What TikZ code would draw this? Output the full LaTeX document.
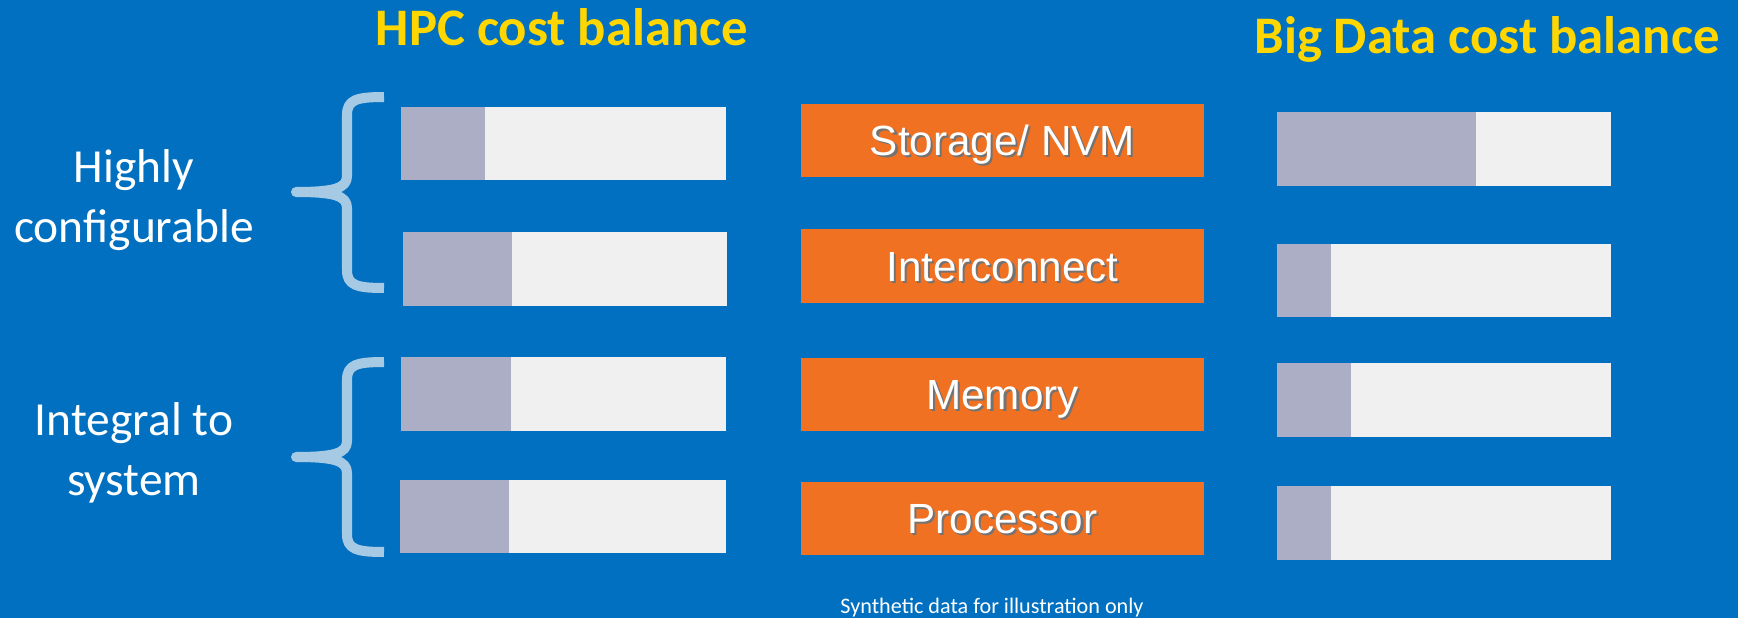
\documentclass[tikz,border=0pt]{standalone}
\usepackage{fontspec}
\setmainfont{Carlito}
\newfontfamily\arialfont{Liberation Sans}
\usetikzlibrary{positioning}

\definecolor{slideblue}{RGB}{2,112,192}
\definecolor{titleyellow}{RGB}{255,214,0}
\definecolor{boxorange}{RGB}{240,113,34}
\definecolor{barlight}{RGB}{240,240,240}
\definecolor{bargray}{RGB}{172,174,198}
\definecolor{bracecol}{RGB}{166,202,228}

\newcommand{\shadowed}[1]{\leavevmode\rlap{\kern0.6pt\raisebox{-0.6pt}{\color{black!55}#1}}#1}

\begin{document}
\begin{tikzpicture}[x=0.01cm, y=-0.01cm, every node/.style={inner sep=0pt},
	title/.style={text=titleyellow, font=\fontsize{15}{18}\selectfont\bfseries, anchor=base},
	sidelabel/.style={text=white, align=center, font=\fontsize{13.5}{17}\selectfont, anchor=base},
	partbox/.style={fill=boxorange, minimum width=4.02cm, minimum height=0.73cm, text=white,
		font=\arialfont\fontsize{12}{14}\selectfont, text height=8.6pt, text depth=0pt},
	bracket/.style={draw=bracecol, line width=1mm, line join=round}]
	\fill[slideblue] (0,0) rectangle (1738,618);
	\node[title] (hpc) at (562,45) {HPC cost balance};
	\node[title] (bigdata) at (1487,54) {Big Data cost balance};
	\node[sidelabel] (config) at (134,242) {Highly\\configurable};
	\node[sidelabel] (integral) at (134,495) {Integral to\\system};
	\foreach \t/\m/\b in {97/192/288, 362/457/552}
		\draw[bracket] (384,\t) .. controls (356,\t) and (347,\t+3) .. (347,\t+18) -- (347,\m-16)
			.. controls (347,\m-4) and (335,\m) .. (296,\m) .. controls (335,\m) and (347,\m+4) .. (347,\m+16)
			-- (347,\b-18) .. controls (347,\b-3) and (356,\b) .. (384,\b);
	\foreach \l/\t/\g/\r/\b in {401/107/485/726/180, 403/232/512/727/306, 401/357/511/726/431, 400/480/509/726/553,
		1277/112/1476/1611/186, 1277/244/1331/1611/317, 1277/363/1351/1611/437, 1277/486/1331/1611/560} {
		\fill[barlight] (\l,\t) rectangle (\r,\b);
		\fill[bargray] (\l,\t) rectangle (\g,\b);
	}
	\node[partbox] (storage) at (1002.5,140.5) {\shadowed{Storage/ NVM}};
	\node[partbox] (interconnect) at (1002.5,266) {\shadowed{Interconnect}};
	\node[partbox] (memory) at (1002.5,394.5) {\shadowed{Memory}};
	\node[partbox] (processor) at (1002.5,518.5) {\shadowed{Processor}};
	\node[text=white, font=\fontsize{6.3}{8}\selectfont, anchor=base] (note) at (992,613) {Synthetic data for illustration only};
\end{tikzpicture}
\end{document}
